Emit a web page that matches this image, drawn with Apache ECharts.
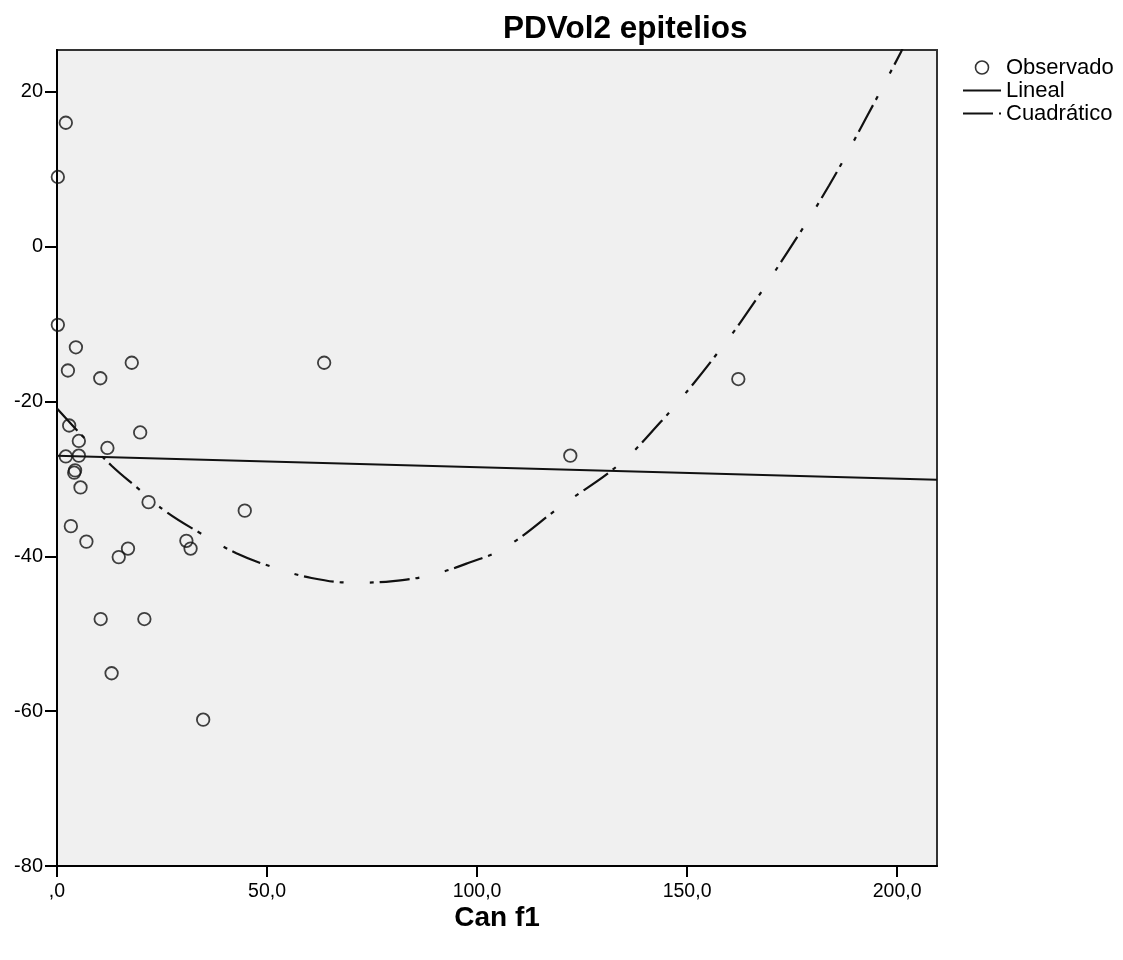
<!DOCTYPE html>
<html>
<head>
<meta charset="utf-8">
<script src="https://cdn.jsdelivr.net/npm/echarts@6/dist/echarts.min.js"></script>
<style>
html,body{margin:0;padding:0;background:#fff;}
#chart{width:1123px;height:960px;}
</style>
</head>
<body>
<div id="chart"></div>
<script>
// Observed points (Can f1, PDVol2 epitelios)
var obsX = [2.1, 0.2, 0.2, 4.5, 2.6, 17.8, 10.3, 63.6, 162.2, 2.9, 19.8, 5.2, 12.0, 2.1, 5.2, 122.2, 4.3, 4.1, 5.6, 21.8, 44.7, 3.3, 7.0, 16.9, 14.7, 30.8, 31.8, 10.4, 20.8, 13.0, 34.8];
var obsY = [16.0, 9.0, -10.1, -13.0, -16.0, -15.0, -17.0, -15.0, -17.1, -23.1, -24.0, -25.1, -26.0, -27.1, -27.0, -27.0, -28.9, -29.2, -31.1, -33.0, -34.1, -36.1, -38.1, -39.0, -40.1, -38.0, -39.0, -48.1, -48.1, -55.1, -61.1];
// Linear fit (read endpoints)
var linX = [0, 209.5];
var linY = [-27.0, -30.1];
// Quadratic fit
var quadX = [0, 6.3, 13.0, 19.0, 26.1, 34.4, 42.7, 51.4, 60.6, 70.5, 80.0, 89.1, 98.2, 106.9, 120.0, 133.9, 143.8, 151.5, 157.3, 163.2, 173.9, 183.8, 192.9, 200.9, 201.3];
var quadY = [-20.9, -24.6, -28.3, -31.1, -34.3, -37.1, -39.6, -41.4, -42.8, -43.4, -43.2, -42.4, -40.8, -38.8, -33.5, -28.1, -22.6, -17.7, -13.7, -9.4, -0.7, 7.9, 16.9, 25.1, 25.6];
var xTicks = [0, 50, 100, 150, 200];
var yTicks = [-80, -60, -40, -20, 0, 20];
var seriesNames = ['Observado', 'Lineal', 'Cuadrático'];

function pairs(xs, ys){ return xs.map(function(x,i){ return [x, ys[i]]; }); }

var chart = echarts.init(document.getElementById('chart'), null, {renderer:'canvas'});
var option = {
  animation: false,
  backgroundColor: '#ffffff',
  title: {
    text: 'PDVol2 epitelios',
    left: 498, top: 8,
    textStyle: {fontFamily: 'Liberation Sans, Arial, sans-serif', fontWeight: 'bold', fontSize: 31.5, color: '#000'}
  },
  legend: {
    orient: 'vertical', left: 962, top: 56, padding: 0,
    itemWidth: 38, itemHeight: 13, itemGap: 0,
    textStyle: {fontFamily: 'Liberation Sans, Arial, sans-serif', fontSize: 22, color: '#000', lineHeight: 23},
    data: [
      {name: seriesNames[0], icon: 'circle', itemStyle: {color: 'rgba(0,0,0,0)', borderColor: '#000', borderWidth: 1.6}},
      {name: seriesNames[1]},
      {name: seriesNames[2]}
    ]
  },
  grid: {
    left: 57, right: 186, top: 50, bottom: 94,
    show: true, backgroundColor: '#f0f0f0', borderColor: '#333', borderWidth: 2
  },
  xAxis: {
    type: 'value', min: 0, max: 209.5,
    name: 'Can f1', nameLocation: 'middle', nameGap: 38, nameMoveOverlap: false,
    nameTextStyle: {fontFamily: 'Liberation Sans, Arial, sans-serif', fontWeight: 'bold', fontSize: 28, color: '#000'},
    axisLine: {show: true, onZero: false, lineStyle: {color: '#000', width: 2}},
    axisTick: {show: true, length: 11, customValues: xTicks, lineStyle: {color: '#000', width: 2}},
    axisLabel: {
      customValues: xTicks, margin: 16, color: '#000', fontSize: 19.5,
      fontFamily: 'Liberation Sans Narrow, Arial Narrow, Liberation Sans, sans-serif',
      formatter: function(v){ return v === 0 ? ',0' : v.toFixed(1).replace('.', ','); }
    },
    splitLine: {show: false}
  },
  yAxis: {
    type: 'value', min: -80, max: 25.4, interval: 20,
    axisLine: {show: true, onZero: false, lineStyle: {color: '#000', width: 2}},
    axisTick: {show: true, length: 12, customValues: yTicks, lineStyle: {color: '#000', width: 2}},
    axisLabel: {
      customValues: yTicks, margin: 14, color: '#000', fontSize: 20,
      fontFamily: 'Liberation Sans, Arial, sans-serif'
    },
    splitLine: {show: false}
  },
  series: [
    {
      name: seriesNames[0], type: 'scatter', symbol: 'circle', symbolSize: 12.5,
      data: pairs(obsX, obsY), clip: false,
      itemStyle: {color: 'rgba(0,0,0,0)', borderColor: '#111', borderWidth: 1.8},
      emphasis: {disabled: true}, z: 3
    },
    {
      name: seriesNames[1], type: 'line', symbol: 'none', showSymbol: false,
      data: pairs(linX, linY),
      itemStyle: {color: 'rgba(0,0,0,0)'},
      lineStyle: {color: '#111', width: 2, type: 'solid'},
      emphasis: {disabled: true}, z: 2
    },
    {
      name: seriesNames[2], type: 'line', symbol: 'none', showSymbol: false, smooth: 0.4,
      data: pairs(quadX, quadY),
      itemStyle: {color: 'rgba(0,0,0,0)'},
      lineStyle: {color: '#111', width: 2.2, type: [30, 6, 4, 26, 4, 6], cap: 'butt'},
      emphasis: {disabled: true}, z: 2
    }
  ]
};
chart.setOption(option);
</script>
</body>
</html>
